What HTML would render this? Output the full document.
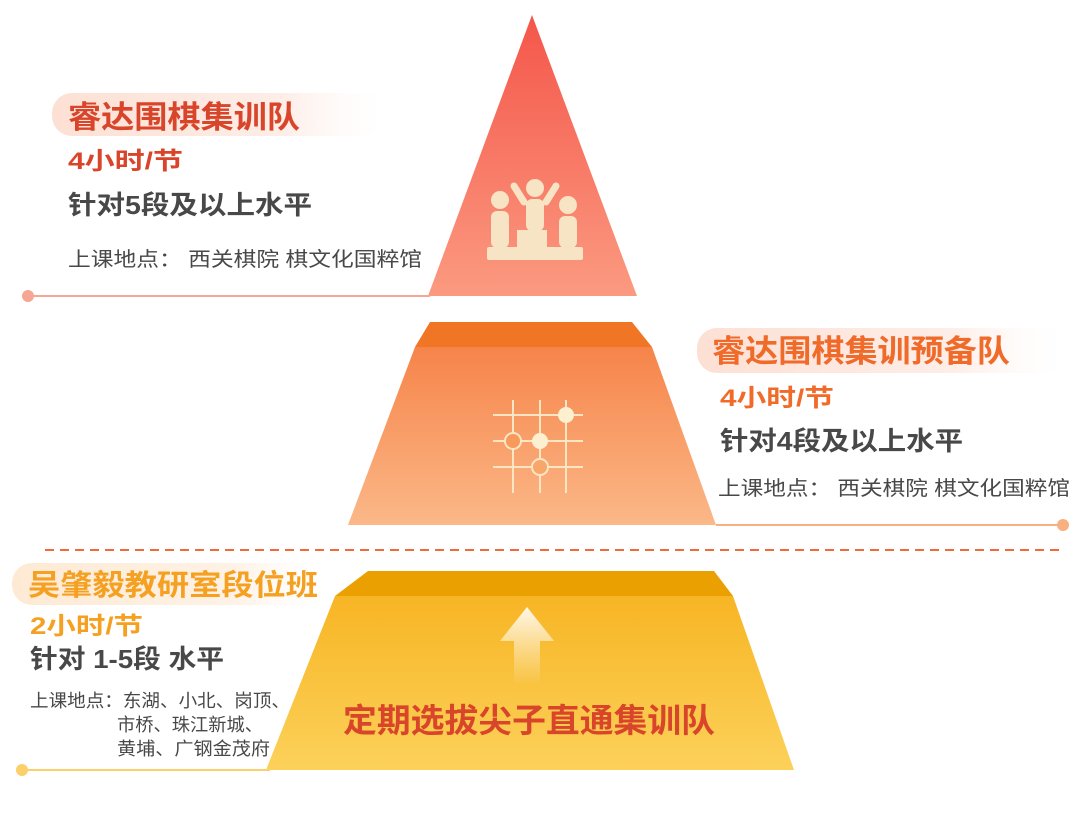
<!DOCTYPE html>
<html><head><meta charset="utf-8"><style>
body{margin:0;background:#fff;}
svg text{font-family:"Liberation Sans","Noto Sans CJK SC",sans-serif;}
</style></head><body>
<svg width="1080" height="809" viewBox="0 0 1080 809" xmlns="http://www.w3.org/2000/svg">
<defs>
<linearGradient id="g1" x1="0" y1="0" x2="0" y2="1"><stop offset="0" stop-color="#f4564a"/><stop offset="1" stop-color="#fb9a80"/></linearGradient>
<linearGradient id="g2" x1="0" y1="0" x2="0" y2="1"><stop offset="0" stop-color="#f6844a"/><stop offset="1" stop-color="#fbb888"/></linearGradient>
<linearGradient id="g3" x1="0" y1="0" x2="0" y2="1"><stop offset="0" stop-color="#f7b524"/><stop offset="1" stop-color="#fcd15a"/></linearGradient>
<linearGradient id="p1" x1="0" y1="0" x2="1" y2="0"><stop offset="0" stop-color="#fde0d4"/><stop offset="0.7" stop-color="#fdeee8"/><stop offset="1" stop-color="#fff" stop-opacity="0.2"/></linearGradient>
<linearGradient id="p3" x1="0" y1="0" x2="1" y2="0"><stop offset="0" stop-color="#feead4"/><stop offset="0.7" stop-color="#fef2e6"/><stop offset="1" stop-color="#fff" stop-opacity="0.2"/></linearGradient>
<linearGradient id="ar" x1="0" y1="0" x2="0" y2="1"><stop offset="0" stop-color="#fff8e8"/><stop offset="1" stop-color="#fff8e8" stop-opacity="0"/></linearGradient>
</defs>
<polygon points="532,15 637,296 428,296" fill="url(#g1)"/>
<line x1="27" y1="296" x2="430" y2="296" stroke="#f7a595" stroke-width="2"/>
<circle cx="28" cy="296" r="6" fill="#f7a595"/>
<g fill="#f6e4c4">
<rect x="487" y="247" width="96" height="13" rx="2"/>
<rect x="517" y="230" width="30" height="18"/>
<circle cx="500" cy="200" r="9"/><rect x="491" y="211" width="18" height="37" rx="6"/>
<circle cx="535" cy="188" r="9"/><rect x="526" y="199" width="18" height="32" rx="6"/>
<path d="M524 202 L514 186" stroke="#f6e4c4" stroke-width="7" stroke-linecap="round"/>
<path d="M546 202 L556 186" stroke="#f6e4c4" stroke-width="7" stroke-linecap="round"/>
<circle cx="568" cy="205" r="9"/><rect x="559" y="216" width="18" height="32" rx="6"/>
</g>
<rect x="52" y="93" width="333" height="43" rx="20" fill="url(#p1)"/>
<text x="68" y="128" font-size="31" font-weight="bold" fill="#d9452a" textLength="232" lengthAdjust="spacingAndGlyphs">睿达围棋集训队</text>
<text x="68" y="169" font-size="24" font-weight="bold" fill="#d9452a" textLength="115" lengthAdjust="spacingAndGlyphs">4小时/节</text>
<text x="68" y="214" font-size="26" font-weight="bold" fill="#484848" textLength="244" lengthAdjust="spacingAndGlyphs">针对5段及以上水平</text>
<text x="68" y="266" font-size="20" fill="#484848" textLength="354" lengthAdjust="spacingAndGlyphs">上课地点：  西关棋院 棋文化国粹馆</text>
<polygon points="430,322 632,322 652,347 415,347" fill="#f07626"/>
<polygon points="415,347 652,347 716,525 348,525" fill="url(#g2)"/>
<line x1="716" y1="525" x2="1063" y2="525" stroke="#f8b080" stroke-width="2"/>
<circle cx="1063" cy="525" r="6" fill="#f8b080"/>
<g stroke="#fbe6c4" stroke-width="2" fill="none">
<line x1="493" y1="467" x2="583" y2="467"/>
<line x1="493" y1="415" x2="583" y2="415"/>
<line x1="493" y1="441" x2="583" y2="441"/>
<line x1="513" y1="400" x2="513" y2="493"/>
<line x1="540" y1="400" x2="540" y2="493"/>
<line x1="566" y1="400" x2="566" y2="493"/>
<circle cx="513" cy="441" r="8" fill="#f79a5c"/>
<circle cx="540" cy="467" r="8" fill="#f9a66a"/>
</g>
<circle cx="566" cy="415" r="8" fill="#fdf0d0"/>
<circle cx="540" cy="441" r="8" fill="#fdf0d0"/>
<rect x="697" y="328" width="368" height="45" rx="20" fill="url(#p1)"/>
<text x="712" y="362" font-size="31" font-weight="bold" fill="#f06a2a" textLength="298" lengthAdjust="spacingAndGlyphs">睿达围棋集训预备队</text>
<text x="720" y="406" font-size="24" font-weight="bold" fill="#f06a2a" textLength="114" lengthAdjust="spacingAndGlyphs">4小时/节</text>
<text x="720" y="450" font-size="26" font-weight="bold" fill="#484848" textLength="243" lengthAdjust="spacingAndGlyphs">针对4段及以上水平</text>
<text x="718" y="495" font-size="20" fill="#484848" textLength="352" lengthAdjust="spacingAndGlyphs">上课地点：  西关棋院 棋文化国粹馆</text>
<line x1="45" y1="550" x2="1063" y2="550" stroke="#f06a3a" stroke-width="2" stroke-dasharray="9,6"/>
<polygon points="368,571 714,571 733,596 335,596" fill="#e9a000"/>
<polygon points="335,596 733,596 794,770 266,770" fill="url(#g3)"/>
<line x1="22" y1="770" x2="270" y2="770" stroke="#fbcf6a" stroke-width="2"/>
<circle cx="22" cy="770" r="6" fill="#fbcf6a"/>
<polygon points="527,607 554,641 540,641 540,685 514,685 514,641 500,641" fill="url(#ar)"/>
<rect x="12" y="563" width="318" height="42" rx="20" fill="url(#p3)"/>
<text x="28" y="595" font-size="29" font-weight="bold" fill="#f5a020" textLength="290" lengthAdjust="spacingAndGlyphs">吴肇毅教研室段位班</text>
<text x="30" y="634" font-size="24" font-weight="bold" fill="#f5a020" textLength="113" lengthAdjust="spacingAndGlyphs">2小时/节</text>
<text x="30" y="668" font-size="26" font-weight="bold" fill="#484848" textLength="194" lengthAdjust="spacingAndGlyphs">针对 1-5段 水平</text>
<text x="30" y="707" font-size="18" fill="#484848" textLength="260" lengthAdjust="spacingAndGlyphs">上课地点：东湖、小北、岗顶、</text>
<text x="117" y="731" font-size="18" fill="#484848" textLength="146" lengthAdjust="spacingAndGlyphs">市桥、珠江新城、</text>
<text x="117" y="755" font-size="18" fill="#484848" textLength="153" lengthAdjust="spacingAndGlyphs">黄埔、广钢金茂府</text>
<text x="343" y="732" font-size="33" font-weight="bold" fill="#d9452a" textLength="372" lengthAdjust="spacingAndGlyphs">定期选拔尖子直通集训队</text>
</svg>
</body></html>
